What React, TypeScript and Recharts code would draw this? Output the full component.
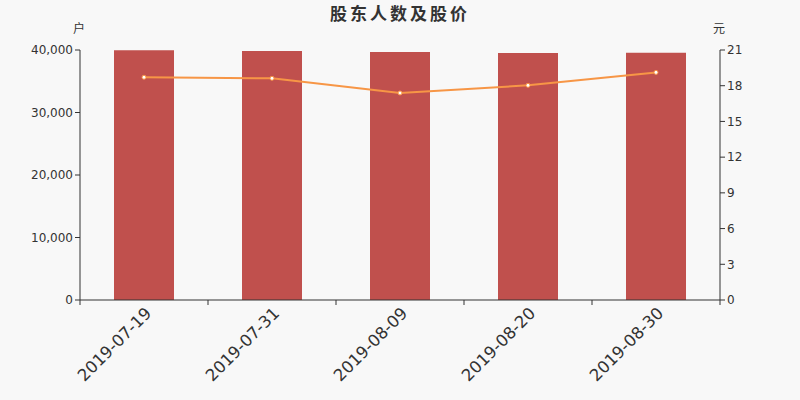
import React from 'react';
import { ComposedChart, Bar, Line, XAxis, YAxis } from 'recharts';

const dates = ['2019-07-19', '2019-07-31', '2019-08-09', '2019-08-20', '2019-08-30'];
const holders = [39980, 39840, 39680, 39520, 39570];
const prices = [18.71, 18.62, 17.39, 18.03, 19.12];
const leftTicks = [0, 10000, 20000, 30000, 40000];
const rightTicks = [0, 3, 6, 9, 12, 15, 18, 21];

const data = dates.map((d, i) => ({ date: d, holders: holders[i], price: prices[i] }));

const AXIS = '#333333';
const NUM_FONT = 'DejaVu Sans, sans-serif';

const XTick = (props: any) => {
  const { x, y, payload, index, visibleTicksCount } = props;
  const half = payload && payload.offset ? payload.offset : 64;
  const count = visibleTicksCount ?? dates.length;
  return (
    <g>
      <line x1={x - half} y1={y - 8} x2={x - half} y2={y - 3} stroke={AXIS} strokeWidth={1} />
      {index === count - 1 && (
        <line x1={x + half} y1={y - 8} x2={x + half} y2={y - 3} stroke={AXIS} strokeWidth={1} />
      )}
      <text
        x={x + 2}
        y={y}
        dy={9}
        textAnchor="end"
        transform={`rotate(-45, ${x + 2}, ${y})`}
        fill={AXIS}
        fontSize={16.5}
        fontFamily={NUM_FONT}
      >
        {payload.value}
      </text>
    </g>
  );
};

const fmt = (v: number) => v.toLocaleString('en-US');

export default function App() {
  return (
    <div style={{ position: 'absolute', left: 0, top: 0, width: 800, height: 400, background: '#f8f8f8' }}>
      <ComposedChart
        width={800}
        height={400}
        data={data}
        margin={{ top: 50, right: 0, bottom: 0, left: 0 }}
        barCategoryGap="26%"
      >
        <text x={400} y={20} textAnchor="middle" fontSize={17} letterSpacing={3} fontWeight="bold" fill={AXIS} fontFamily="Noto Sans CJK SC, sans-serif">
          股东人数及股价
        </text>
        <text x={79} y={33} textAnchor="middle" fontSize={12} fill={AXIS} fontFamily="Noto Sans CJK SC, sans-serif">
          户
        </text>
        <text x={719} y={33} textAnchor="middle" fontSize={12} fill={AXIS} fontFamily="Noto Sans CJK SC, sans-serif">
          元
        </text>
        <XAxis
          dataKey="date"
          height={100}
          stroke={AXIS}
          tickLine={false}
          tick={<XTick />}
          interval={0}
        />
        <YAxis
          yAxisId="left"
          width={80}
          domain={[0, 40000]}
          ticks={leftTicks}
          tickFormatter={fmt}
          stroke={AXIS}
          tickSize={5}
          tick={{ fill: AXIS, fontSize: 12, fontFamily: NUM_FONT }}
        />
        <YAxis
          yAxisId="right"
          orientation="right"
          width={80}
          domain={[0, 21]}
          ticks={rightTicks}
          stroke={AXIS}
          tickSize={5}
          tick={{ fill: AXIS, fontSize: 12, fontFamily: NUM_FONT }}
        />
        <Bar yAxisId="left" dataKey="holders" fill="#c0504d" barSize={60} isAnimationActive={false} />
        <Line
          yAxisId="right"
          dataKey="price"
          stroke="#f79646"
          strokeWidth={2}
          dot={{ r: 2, fill: '#ffffff', stroke: '#f79646', strokeWidth: 1 }}
          isAnimationActive={false}
        />
      </ComposedChart>
    </div>
  );
}
